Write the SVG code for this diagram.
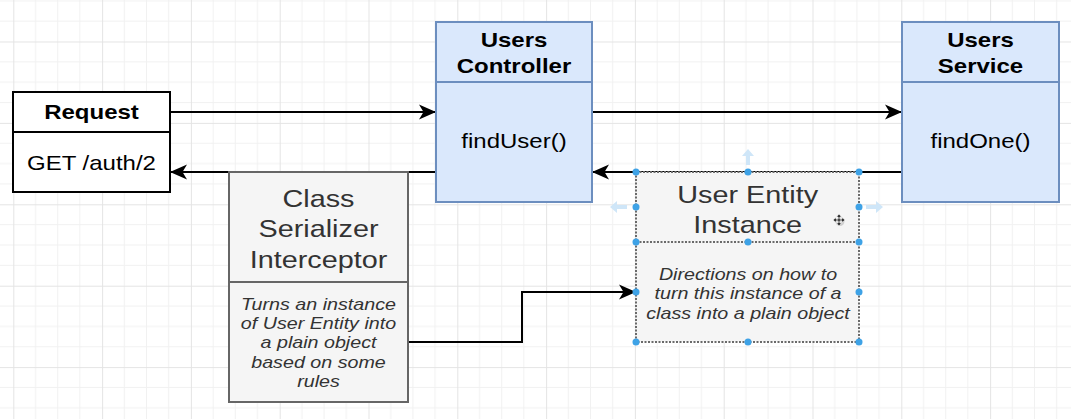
<svg xmlns="http://www.w3.org/2000/svg" width="1071" height="419" viewBox="0 0 1071 419">
  <defs>
    <pattern id="grid" x="13.3" y="41.5" width="88.8" height="81.4" patternUnits="userSpaceOnUse">
      <path d="M22.2,0V81.4M44.4,0V81.4M66.6,0V81.4M0,20.35H88.8M0,40.7H88.8M0,61.05H88.8" stroke="#f1f1f1" stroke-width="1" fill="none"/>
      <path d="M0.5,0V81.4M0,0.5H88.8" stroke="#e4e4e4" stroke-width="1" fill="none"/>
    </pattern>
    <marker id="arrow" markerUnits="userSpaceOnUse" markerWidth="20" markerHeight="18" viewBox="-18 -9 20 18" refX="0" refY="0" orient="auto">
      <path d="M0,0 L-17,-7.5 L-12.5,0 L-17,7.5 Z" fill="#000"/>
    </marker>
  </defs>
  <style>
    .t { font-family: "Liberation Sans", Arial, sans-serif; text-anchor: middle; }
    .b { font-weight: bold; font-size: 20px; fill: #000; }
    .r { font-size: 20px; fill: #000; }
    .big { font-size: 24px; fill: #333; }
    .it { font-style: italic; font-size: 16.4px; fill: #333; }
    .plain { fill: #fff; stroke: #000; stroke-width: 2; }
    .blue { fill: #dae8fc; stroke: #6c8ebf; stroke-width: 2; }
    .grey { fill: #f5f5f5; stroke: #666; stroke-width: 2; }
    .sel { fill: #f5f5f5; stroke: #6a6a6a; stroke-width: 2; stroke-dasharray: 2 1.5; }
    .edge { fill: none; stroke: #000; stroke-width: 2; marker-end: url(#arrow); }
    .h { fill: #3ea2e6; }
    .hint { fill: #cfe6f8; }
  </style>

  <rect width="1071" height="419" fill="#fff"/>
  <rect width="1071" height="419" fill="url(#grid)"/>

  <!-- connectors, drawn beneath the boxes -->
  <g id="connectors">
    <path class="edge" d="M170,112 H436"/>
    <path class="edge" d="M592,112 H902"/>
    <path class="edge" d="M902,172 H592"/>
    <path class="edge" d="M436,172 H170"/>
    <path class="edge" d="M408,342 H522 V292 H636"/>
  </g>

  <g id="request">
    <rect class="plain" x="13" y="92" width="157" height="100"/>
    <line x1="13" y1="132" x2="170" y2="132" stroke="#000" stroke-width="2"/>
    <text class="t b" transform="translate(91.5,119) scale(1.2,1)">Request</text>
    <text class="t r" transform="translate(91.5,170) scale(1.2,1)">GET /auth/2</text>
  </g>

  <g id="users-controller">
    <rect class="blue" x="436" y="22" width="156" height="180"/>
    <line x1="436" y1="82" x2="592" y2="82" stroke="#6c8ebf" stroke-width="2"/>
    <text class="t b" transform="translate(514,46.7) scale(1.2,1)"><tspan x="0">Users</tspan><tspan x="0" dy="26.6">Controller</tspan></text>
    <text class="t r" transform="translate(514,148.3) scale(1.2,1)">findUser()</text>
  </g>

  <g id="users-service">
    <rect class="blue" x="902" y="22" width="157" height="180"/>
    <line x1="902" y1="82" x2="1059" y2="82" stroke="#6c8ebf" stroke-width="2"/>
    <text class="t b" transform="translate(980.5,46.7) scale(1.2,1)"><tspan x="0">Users</tspan><tspan x="0" dy="26.6">Service</tspan></text>
    <text class="t r" transform="translate(980.5,148.3) scale(1.2,1)">findOne()</text>
  </g>

  <g id="class-serializer-interceptor">
    <rect class="grey" x="229" y="172" width="179" height="230"/>
    <line x1="229" y1="282" x2="408" y2="282" stroke="#666" stroke-width="2"/>
    <text class="t big" transform="translate(318.5,206.7) scale(1.2,1)"><tspan x="0">Class</tspan><tspan x="0" dy="30.5">Serializer</tspan><tspan x="0" dy="30.5">Interceptor</tspan></text>
    <text class="t it" transform="translate(318.5,309.5) scale(1.2,1)"><tspan x="0">Turns an instance</tspan><tspan x="0" dy="19.5">of User Entity into</tspan><tspan x="0" dy="19.5">a plain object</tspan><tspan x="0" dy="19.5">based on some</tspan><tspan x="0" dy="19.5">rules</tspan></text>
  </g>

  <g id="user-entity-instance">
    <rect class="sel" x="636" y="172" width="223" height="170"/>
    <line x1="636" y1="242" x2="859" y2="242" stroke="#6a6a6a" stroke-width="2" stroke-dasharray="2 1.5"/>
    <text class="t big" transform="translate(747.7,202.7) scale(1.2,1)"><tspan x="0">User Entity</tspan><tspan x="0" dy="30.6">Instance</tspan></text>
    <text class="t it" transform="translate(748,280) scale(1.2,1)"><tspan x="0">Directions on how to</tspan><tspan x="0" dy="19.5">turn this instance of a</tspan><tspan x="0" dy="19.5">class into a plain object</tspan></text>
    <!-- selection handles -->
    <circle class="h" cx="636" cy="172" r="3.5"/>
    <circle class="h" cx="748" cy="172" r="3.5"/>
    <circle class="h" cx="859" cy="172" r="3.5"/>
    <circle class="h" cx="636" cy="207" r="3.5"/>
    <circle class="h" cx="859" cy="207" r="3.5"/>
    <circle class="h" cx="636" cy="242" r="3.5"/>
    <circle class="h" cx="748" cy="242" r="3.5"/>
    <circle class="h" cx="859" cy="242" r="3.5"/>
    <circle class="h" cx="636" cy="292" r="3.5"/>
    <circle class="h" cx="859" cy="292" r="3.5"/>
    <circle class="h" cx="636" cy="342" r="3.5"/>
    <circle class="h" cx="748" cy="342" r="3.5"/>
    <circle class="h" cx="859" cy="342" r="3.5"/>
    <!-- hover direction hints -->
    <path class="hint" d="M748,149 L754,156 L750,156 L750,165 L746,165 L746,156 L742,156 Z"/>
    <path class="hint" d="M610,207 L617,201 L617,205 L627,205 L627,209 L617,209 L617,213 Z"/>
    <path class="hint" d="M883,207 L876,201 L876,205 L866,205 L866,209 L876,209 L876,213 Z"/>
    <!-- move cursor -->
    <g transform="translate(839,220)">
      <circle cx="1" cy="1.5" r="4.5" fill="#000" opacity="0.15"/>
      <path d="M0,-6 L2.5,-3 L0.8,-3 L0.8,-0.8 L3,-0.8 L3,-2.5 L6,0 L3,2.5 L3,0.8 L0.8,0.8 L0.8,3 L2.5,3 L0,6 L-2.5,3 L-0.8,3 L-0.8,0.8 L-3,0.8 L-3,2.5 L-6,0 L-3,-2.5 L-3,-0.8 L-0.8,-0.8 L-0.8,-3 L-2.5,-3 Z" fill="#222" stroke="#fff" stroke-width="0.6"/>
    </g>
  </g>
</svg>
